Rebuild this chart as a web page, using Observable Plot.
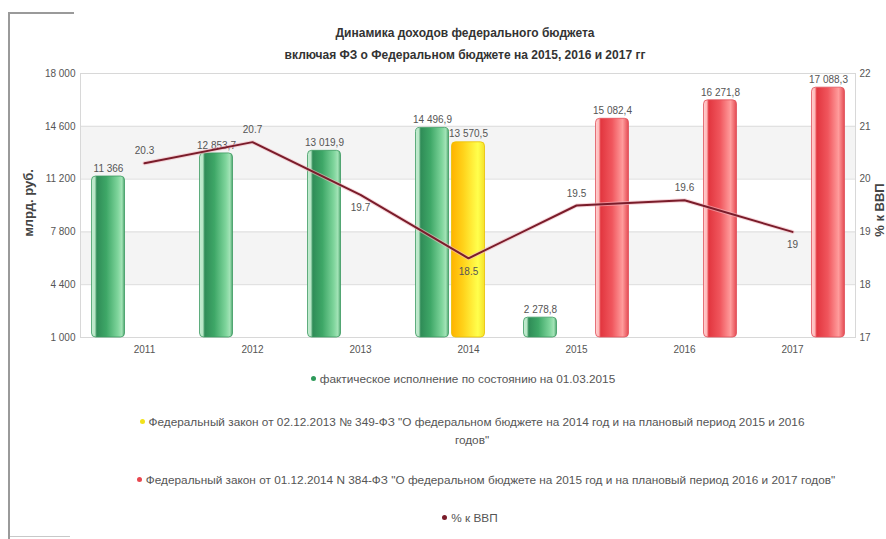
<!DOCTYPE html>
<html>
<head>
<meta charset="utf-8">
<script src="https://cdn.jsdelivr.net/npm/d3@7"></script>
<script src="https://cdn.jsdelivr.net/npm/@observablehq/plot@0.6"></script>
<style>
  html, body { margin: 0; padding: 0; background: #fff; }
  #wrap { position: relative; width: 886px; height: 539px; overflow: hidden; font-family: "Liberation Sans", Arial, sans-serif; }
  .abs { position: absolute; }
  .title { left: 115px; width: 700px; top: 22px; text-align: center; font-weight: bold; font-size: 12px; line-height: 22px; color: #333; }
  .ytitle { font-weight: bold; font-size: 13px; color: #444; white-space: nowrap; transform: translate(-50%, -50%) rotate(-90deg); }
  .leg { text-align: center; font-size: 11.8px; line-height: 18px; color: #555; white-space: nowrap; }
  .dot { display: inline-block; width: 5px; height: 5px; border-radius: 50%; margin-right: 4px; vertical-align: middle; position: relative; top: -1px; }
</style>
</head>
<body>
<div id="wrap">
  <div class="abs" style="left:8px;top:12px;width:2px;height:527px;background:#9a9a9a"></div>
  <div class="abs" style="left:8px;top:12px;width:66px;height:2px;background:#9a9a9a"></div>
  <div class="abs" style="left:10px;top:536px;width:60px;height:1px;background:#c8c8c8"></div>
  <div class="abs title">Динамика доходов федерального бюджета<br>включая ФЗ о Федеральном бюджете на 2015, 2016 и 2017 гг</div>
  <div id="chart" class="abs" style="left:0;top:60px"></div>
  <div class="abs ytitle" style="left:28px;top:203px">млрд. руб.</div>
  <div class="abs ytitle" style="left:879px;top:210px">% к ВВП</div>
  <div class="abs leg" style="left:113px;width:700px;top:370px"><span class="dot" style="background:#2e9a5a"></span>фактическое исполнение по состоянию на 01.03.2015</div>
  <div class="abs leg" style="left:122px;width:700px;top:413px">
    <span class="dot" style="background:#f2e21a"></span>Федеральный закон от 02.12.2013 № 349-ФЗ "О федеральном бюджете на 2014 год и на плановый период 2015 и 2016<br>годов"</div>
  <div class="abs leg" style="left:136px;width:700px;top:471px"><span class="dot" style="background:#e8474f"></span>Федеральный закон от 01.12.2014 N 384-ФЗ "О федеральном бюджете на 2015 год и на плановый период 2016 и 2017 годов"</div>
  <div class="abs leg" style="left:120px;width:700px;top:509px"><span class="dot" style="background:#7a1c2a"></span>% к ВВП</div>
</div>
<script>
// ---- data ----
const years = ["2011", "2012", "2013", "2014", "2015", "2016", "2017"];
const actual = [11366, 12853.7, 13019.9, 14496.9, 2278.8, null, null];      // фактическое исполнение
const law2014 = [null, null, null, 13570.5, null, null, null];              // ФЗ № 349-ФЗ
const law2015 = [null, null, null, null, 15082.4, 16271.8, 17088.3];        // ФЗ № 384-ФЗ
const gdpShare = [20.3, 20.7, 19.7, 18.5, 19.5, 19.6, 19];                  // % к ВВП
const leftTicks = [1000, 4400, 7800, 11200, 14600, 18000];
const rightTicks = [17, 18, 19, 20, 21, 22];

// ---- helpers ----
const ru = d3.formatLocale({decimal: ",", thousands: "\u00a0", grouping: [3], currency: ["", ""]});
const fmt0 = ru.format(",.0f");
const fmt1 = ru.format(",.1f");
const valueLabel = v => Number.isInteger(v) ? fmt0(v) : fmt1(v);

const yMin = leftTicks[0], yMax = leftTicks[leftTicks.length - 1];
const rMin = rightTicks[0], rMax = rightTicks[rightTicks.length - 1];
const toLeft = p => yMin + (p - rMin) / (rMax - rMin) * (yMax - yMin);
const fromLeft = v => rMin + (v - yMin) / (yMax - yMin) * (rMax - rMin);

const seriesList = [
  {name: "actual", values: actual, fill: "url(#gGreen)", stroke: "#3d9a62"},
  {name: "law2014", values: law2014, fill: "url(#gYellow)", stroke: "#e8c000"},
  {name: "law2015", values: law2015, fill: "url(#gRed)", stroke: "#e0505a"}
];
const key = (y, i) => y + "|" + i;
const xDomain = years.flatMap(y => seriesList.map((s, i) => key(y, i)));
const midKeys = years.map(y => key(y, 1));

const barRows = seriesList.map((s, i) =>
  years.map((y, j) => ({year: y, slot: i, key: key(y, i), value: s.values[j]})).filter(d => d.value != null)
);
const lineRows = years.map((y, j) => ({
  year: y, p: gdpShare[j], below: j > 0 && gdpShare[j] < gdpShare[j - 1]
}));

const marks = [
  Plot.rect([{y1: 11200, y2: 14600}, {y1: 4400, y2: 7800}], {y1: "y1", y2: "y2", fill: "#f4f4f4"}),
  Plot.ruleY(leftTicks, {stroke: "#dcdcdc"}),
  Plot.frame({stroke: "#d8d8d8"})
];
seriesList.forEach((s, i) => {
  marks.push(Plot.rectY(barRows[i], {
    x: "key", y1: () => yMin, y2: "value",
    fill: s.fill, stroke: s.stroke, strokeWidth: 0.8,
    insetLeft: 1.5, insetRight: 1.5, rx: 4
  }));
});
seriesList.forEach((s, i) => {
  marks.push(Plot.text(barRows[i], {
    x: "key", y: "value", text: d => valueLabel(d.value),
    dy: -8, fontSize: 10, fill: "#555"
  }));
});
marks.push(
  Plot.line(lineRows, {x: d => key(d.year, 1), y: d => toLeft(d.p), stroke: "#f2b8bf", strokeWidth: 4, strokeOpacity: 0.6}),
  Plot.line(lineRows, {x: d => key(d.year, 1), y: d => toLeft(d.p), stroke: "#7a1c2a", strokeWidth: 2}),
  Plot.text(lineRows.filter(d => !d.below), {x: d => key(d.year, 1), y: d => toLeft(d.p), text: d => String(d.p), dy: -12, fontSize: 10, fill: "#555"}),
  Plot.text(lineRows.filter(d => d.below), {x: d => key(d.year, 1), y: d => toLeft(d.p), text: d => String(d.p), dy: 13, fontSize: 10, fill: "#555"}),
  Plot.axisX(midKeys, {tickFormat: k => k.split("|")[0], tickSize: 0, tickPadding: 8, label: null, fill: "#555"}),
  Plot.axisY(leftTicks, {anchor: "left", tickFormat: fmt0, tickSize: 0, tickPadding: 5, label: null, fill: "#555"}),
  Plot.axisY(rightTicks.map(toLeft), {anchor: "right", tickFormat: v => String(Math.round(fromLeft(v))), tickSize: 0, tickPadding: 4, label: null, fill: "#555"})
);

const svg = Plot.plot({
  width: 886,
  height: 300,
  marginTop: 13,
  marginBottom: 23,
  marginLeft: 80,
  marginRight: 31,
  style: {fontFamily: "'Liberation Sans', Arial, sans-serif", fontSize: "10px", background: "transparent", overflow: "visible"},
  x: {type: "band", domain: xDomain, padding: 0},
  y: {domain: [yMin, yMax]},
  marks
});

const defs = `
<defs>
  <linearGradient id="gGreen" x1="0" x2="1" y1="0" y2="0">
    <stop offset="0" stop-color="#c5ecd2"/>
    <stop offset="0.1" stop-color="#b8e6c6"/>
    <stop offset="0.16" stop-color="#2f8c57"/>
    <stop offset="0.45" stop-color="#3ea767"/>
    <stop offset="0.8" stop-color="#7fd59c"/>
    <stop offset="0.92" stop-color="#a3e3b7"/>
    <stop offset="1" stop-color="#4aa56c"/>
  </linearGradient>
  <linearGradient id="gYellow" x1="0" x2="1" y1="0" y2="0">
    <stop offset="0" stop-color="#ffb300"/>
    <stop offset="0.35" stop-color="#ffd21a"/>
    <stop offset="0.8" stop-color="#ffff4d"/>
    <stop offset="1" stop-color="#f5e22a"/>
  </linearGradient>
  <linearGradient id="gRed" x1="0" x2="1" y1="0" y2="0">
    <stop offset="0" stop-color="#ffd2d2"/>
    <stop offset="0.1" stop-color="#ffb8b8"/>
    <stop offset="0.16" stop-color="#e2363f"/>
    <stop offset="0.5" stop-color="#f0565d"/>
    <stop offset="0.82" stop-color="#ff9c9c"/>
    <stop offset="1" stop-color="#e44a52"/>
  </linearGradient>
</defs>`;
svg.insertAdjacentHTML("afterbegin", defs);
document.getElementById("chart").appendChild(svg);
</script>
</body>
</html>
